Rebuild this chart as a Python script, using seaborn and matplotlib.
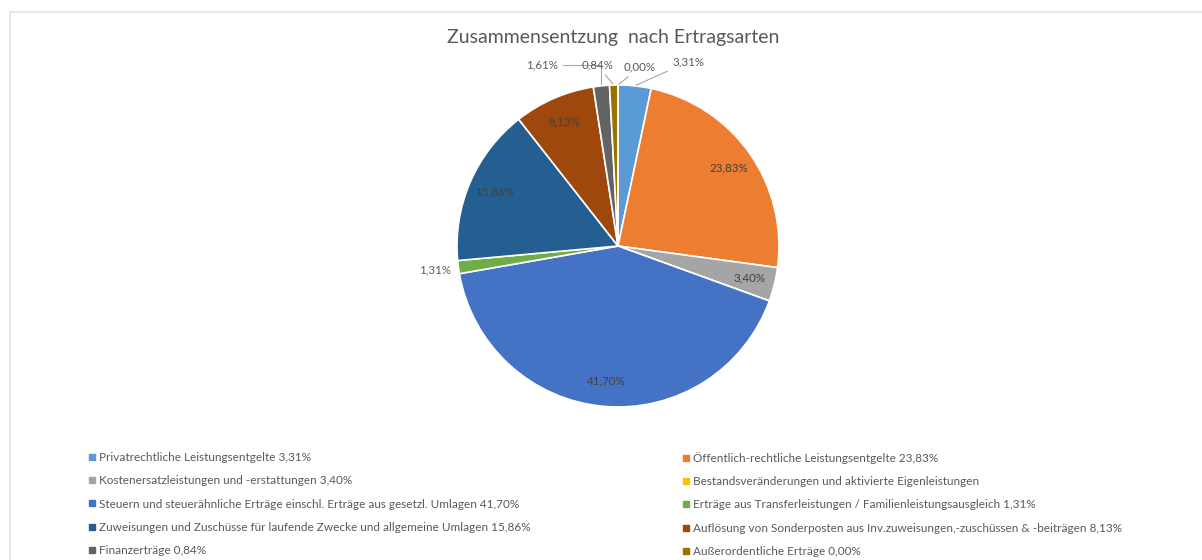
# %% Zusammensetzung nach Ertragsarten - pie chart
import matplotlib
matplotlib.use("Agg")
import matplotlib.pyplot as plt
from matplotlib.lines import Line2D
import numpy as np
import seaborn as sns

sns.set_theme(style="white")
plt.rcParams['font.family'] = ['Lato', 'DejaVu Sans']

# slice values in percent, clockwise from 12 o'clock
values = [3.31, 23.83, 3.40, 0.00, 41.70, 1.31, 15.86, 8.13, 1.61, 0.84, 0.00]
slice_colors = ["#5B9BD5", "#ED7D31", "#A5A5A5", "#FFC000", "#4472C4", "#70AD47",
                "#255E91", "#9E480E", "#636363", "#997300", "#264478"]
has_label = [True, True, True, False, True, True, True, True, True, True, True]

legend_labels = [
    "Privatrechtliche Leistungsentgelte 3,31%",
    "Öffentlich-rechtliche Leistungsentgelte 23,83%",
    "Kostenersatzleistungen und -erstattungen 3,40%",
    "Bestandsveränderungen und aktivierte Eigenleistungen",
    "Steuern und steuerähnliche Erträge einschl. Erträge aus gesetzl. Umlagen 41,70%",
    "Erträge aus Transferleistungen / Familienleistungsausgleich 1,31%",
    "Zuweisungen und Zuschüsse für laufende Zwecke und allgemeine Umlagen 15,86%",
    "Auflösung von Sonderposten aus Inv.zuweisungen,-zuschüssen & -beiträgen 8,13%",
    "Finanzerträge 0,84%",
    "Außerordentliche Erträge 0,00%",
]

title = "Zusammensentzung  nach Ertragsarten"
text_color = "#595959"
label_color = "#404040"

W, H = 1202, 560
fig = plt.figure(figsize=(W / 100, H / 100), dpi=100)

# pie: centre (618, 246) px, radius 161 px
cx, cy, r = 618, 246, 161
ax = fig.add_axes([(cx - r) / W, 1 - (cy + r) / H, 2 * r / W, 2 * r / H])
wedges, _ = ax.pie(values, colors=slice_colors, startangle=90, counterclock=False,
                   wedgeprops=dict(edgecolor="white", linewidth=1.2))
ax.set_xlim(-1, 1)
ax.set_ylim(-1, 1)
ax.set_aspect("equal")
ax.axis("off")


def fmt(v):
    return f"{v:.2f}".replace(".", ",") + "%"


# labels of small slices sit outside, most with a leader line
outside = {
    5: (-1.135, -0.15, None),
    8: (-0.472, 1.124, "angle,angleA=0,angleB=90,rad=0"),
    9: (-0.130, 1.124, "arc3"),
    10: (0.137, 1.112, "arc3"),
    0: (0.435, 1.143, "arc3"),
}
for i, w in enumerate(wedges):
    if not has_label[i]:
        continue
    mid = np.deg2rad((w.theta1 + w.theta2) / 2)
    if i in outside:
        tx, ty, conn = outside[i]
        arrow = None
        if conn:
            arrow = dict(arrowstyle="-", color="#A6A6A6", lw=0.8,
                         connectionstyle=conn, shrinkA=1, shrinkB=1)
        ax.annotate(fmt(values[i]), xy=(np.cos(mid), np.sin(mid)), xytext=(tx, ty),
                    ha="center", va="center", fontsize=8.3, color=text_color,
                    annotation_clip=False, arrowprops=arrow)
    else:
        d = 0.84
        ax.text(d * np.cos(mid), d * np.sin(mid), fmt(values[i]), ha="center",
                va="center", fontsize=8.3, color=label_color)

# title
fig.text(613 / W, 1 - 38 / H, title, ha="center", va="center", fontsize=14,
         color=text_color)

# legend in two columns, row-major order
def handles_for(idx):
    hs = [Line2D([], [], marker="s", ls="", markersize=4.5, color=slice_colors[i])
          for i in idx]
    return hs, [legend_labels[i] for i in idx]

for idx, x0 in [([0, 2, 4, 6, 8], 88), ([1, 3, 5, 7, 9], 682)]:
    hs, ls = handles_for(idx)
    leg = fig.legend(hs, ls, loc="upper left", bbox_to_anchor=(x0 / W, 1 - 452 / H),
                     frameon=False, fontsize=8.5, labelspacing=1.04, handlelength=0.6,
                     handletextpad=0.3, borderpad=0, borderaxespad=0)
    for t in leg.get_texts():
        t.set_color(text_color)

# chart area border (top and left edges visible)
fig.add_artist(Line2D([10 / W, 10 / W], [1 - 12 / H, 0], transform=fig.transFigure,
                      color="#E3E3E3", lw=1.2))
fig.add_artist(Line2D([10 / W, 1], [1 - 12 / H, 1 - 12 / H], transform=fig.transFigure,
                      color="#E3E3E3", lw=1.2))

fig.savefig("out.png", dpi=100, facecolor="white")
